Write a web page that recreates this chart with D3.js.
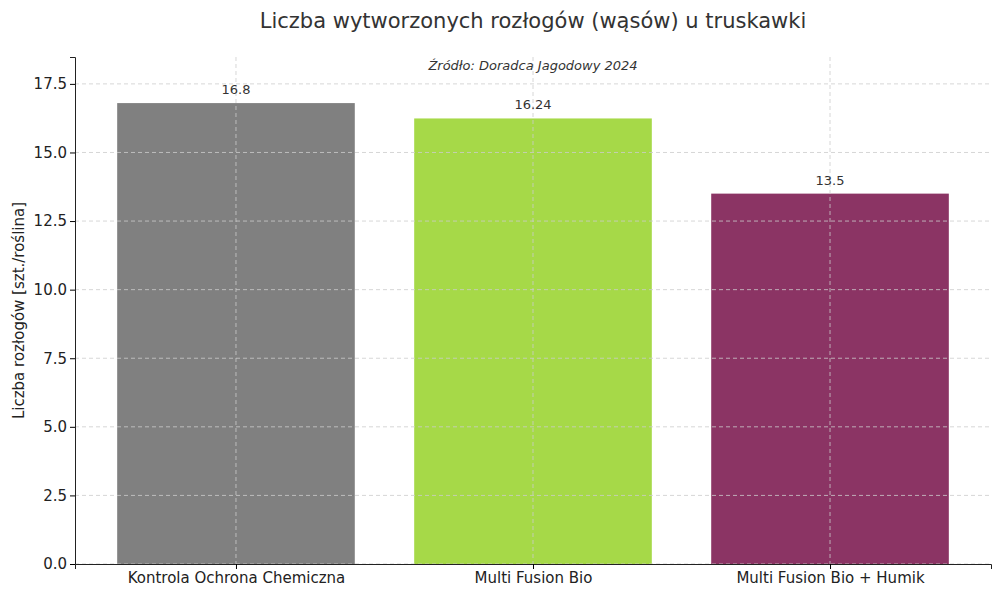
<!DOCTYPE html>
<html>
<head>
<meta charset="utf-8">
<script src="https://cdn.jsdelivr.net/npm/d3@7"></script>
<style>
  body { margin: 0; background: #fff; }
  text { font-family: "DejaVu Sans", sans-serif; fill: #333; }
  .grid line { stroke: #ccc; stroke-dasharray: 4,3; stroke-width: 0.8; }
</style>
</head>
<body>
<svg id="chart" width="1000" height="596"></svg>
<script>
var categories = ["Kontrola Ochrona Chemiczna", "Multi Fusion Bio", "Multi Fusion Bio + Humik"];
var values = [16.8, 16.24, 13.5];
var labels = ["16.8", "16.24", "13.5"];
var colors = ["#808080", "#a6d948", "#8b3464"];
var yTicks = [0, 2.5, 5, 7.5, 10, 12.5, 15, 17.5];

var svg = d3.select("#chart");
var mLeft = 75, mRight = 991, mTop = 57, mBottom = 564;

var x = d3.scaleLinear().domain([-0.542, 2.542]).range([mLeft, mRight]);
var y = d3.scaleLinear().domain([0, 18.48]).range([mBottom, mTop]);
var bw = x(0.4) - x(0);

// bars
svg.selectAll("rect.bar").data(values).enter().append("rect")
  .attr("x", function(d, i) { return x(i) - bw; })
  .attr("width", bw * 2)
  .attr("y", function(d) { return y(d); })
  .attr("height", function(d) { return mBottom - y(d); })
  .attr("fill", function(d, i) { return colors[i]; });

// grid on top
var g = svg.append("g").attr("class", "grid");
g.selectAll("line.h").data(yTicks).enter().append("line")
  .attr("x1", mLeft).attr("x2", mRight)
  .attr("y1", function(d) { return y(d); }).attr("y2", function(d) { return y(d); });
g.selectAll("line.v").data(categories).enter().append("line")
  .attr("y1", mTop).attr("y2", mBottom)
  .attr("x1", function(d, i) { return x(i); }).attr("x2", function(d, i) { return x(i); });

// value labels
svg.selectAll("text.val").data(values).enter().append("text")
  .attr("x", function(d, i) { return x(i); })
  .attr("y", function(d) { return y(d) - 9; })
  .attr("text-anchor", "middle").attr("font-size", 13)
  .text(function(d, i) { return labels[i]; });

// axes
svg.append("g").attr("transform", "translate(" + mLeft + ",0)")
  .call(d3.axisLeft(y).tickValues(yTicks).tickFormat(d3.format(".1f")).tickSize(5))
  .call(function(a) { a.selectAll("text").attr("font-size", 15).style("font-family", "DejaVu Sans").style("fill", "#222"); });
svg.append("g").attr("transform", "translate(0," + mBottom + ")")
  .call(d3.axisBottom(x).tickValues([0, 1, 2]).tickFormat(function(d) { return categories[d]; }).tickSize(5))
  .call(function(a) { a.selectAll("text").attr("font-size", 15).style("font-family", "DejaVu Sans").style("fill", "#222"); });
svg.selectAll(".domain").attr("stroke", "#222");

// texts
svg.append("text").attr("x", 533).attr("y", 28).attr("text-anchor", "middle")
  .attr("font-size", 21).text("Liczba wytworzonych rozłogów (wąsów) u truskawki");
svg.append("text").attr("x", 533).attr("y", 70).attr("text-anchor", "middle")
  .attr("font-size", 13).attr("font-style", "italic").text("Źródło: Doradca Jagodowy 2024");
svg.append("text").attr("transform", "translate(24," + ((mTop + mBottom) / 2) + ") rotate(-90)")
  .attr("text-anchor", "middle").attr("font-size", 15).style("fill", "#222").text("Liczba rozłogów [szt./roślina]");
</script>
</body>
</html>
